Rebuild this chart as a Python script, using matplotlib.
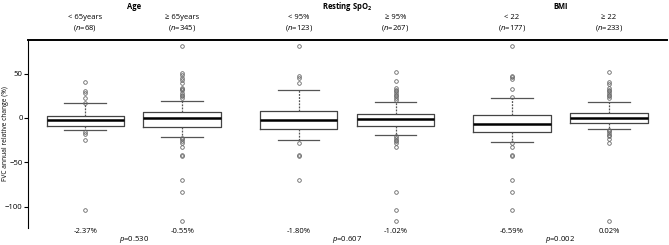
import matplotlib
matplotlib.use("Agg")
import matplotlib.pyplot as plt

plt.rcParams["font.family"] = ["Open Sans", "DejaVu Sans"]
plt.rcParams["mathtext.fontset"] = "custom"
plt.rcParams["mathtext.rm"] = "Open Sans"
plt.rcParams["mathtext.it"] = "Open Sans:italic"
plt.rcParams["mathtext.bf"] = "Open Sans:bold"

# box positions and summary values
positions = [1, 2, 3.2, 4.2, 5.4, 6.4]
group_labels = ["< 65years", "\u2265 65years", "< 95%", "\u2265 95%", "< 22", "\u2265 22"]
group_n = [68, 345, 123, 267, 177, 233]
medians = [-2.3, -0.5, -1.9, -1.1, -6.8, 0.0]
q1 = [-9.1, -9.8, -12.8, -9.0, -15.8, -6.1]
q3 = [1.8, 6.3, 7.9, 4.5, 3.4, 5.6]
whislo = [-13.6, -21.1, -24.8, -19.2, -26.7, -12.4]
whishi = [16.5, 18.7, 31.9, 18.0, 22.1, 17.6]
fliers = [
    [40.6, 30.8, 27.8, 22.0, 16.5, -16.0, -18.5, -25.0, -104.0],
    [80.7, 50.7, 48.0, 45.1, 42.4, 39.5, 33.8, 32.7, 31.1, 28.2, 26.3, 24.4, 22.5,
     -22.2, -23.7, -25.6, -28.2, -32.7, -42.2, -43.3, -69.9, -83.9, -116.6],
    [80.7, 47.7, 45.1, 39.5, -27.8, -41.7, -42.8, -70.3],
    [51.4, 41.3, 33.8, 31.9, 30.0, 28.2, 26.3, 24.4, 22.5, 20.6,
     -20.7, -22.5, -24.5, -26.4, -28.2, -32.7, -83.9, -104.2, -116.6],
    [80.7, 47.7, 45.8, 44.0, 32.7, 23.7, -28.2, -32.7, -41.7, -42.8, -70.3, -83.9, -104.2],
    [51.4, 40.6, 38.7, 33.8, 31.9, 30.0, 28.2, 26.3, 24.4, 22.5,
     -13.2, -15.1, -16.9, -18.8, -20.7, -23.7, -28.2, -116.6],
]
median_labels = ["-2.37%", "-0.55%", "-1.80%", "-1.02%", "-6.59%", "0.02%"]
factors = ["Age", "Resting SpO$\\mathbf{_2}$", "BMI"]
p_values = ["0.530", "0.607", "0.002"]

stats = []
for i in range(len(positions)):
    stats.append({"med": medians[i], "q1": q1[i], "q3": q3[i],
                  "whislo": whislo[i], "whishi": whishi[i], "fliers": fliers[i]})

fig = plt.figure(figsize=(6.69, 2.45), dpi=100)
ax = fig.add_axes([0.042, 0.07, 0.955, 0.767])

ax.bxp(stats, positions=positions, widths=0.8, capwidths=0.43, showfliers=True,
       boxprops=dict(color="#444444", linewidth=0.9),
       medianprops=dict(color="black", linewidth=1.8),
       whiskerprops=dict(color="#555555", linewidth=0.9, linestyle=(0, (1.5, 1))),
       capprops=dict(color="#555555", linewidth=0.9),
       flierprops=dict(marker="o", markersize=2.6, markerfacecolor="none",
                       markeredgecolor="#666666", markeredgewidth=0.6))

ax.set_xlim(0.41, 7.0)
ax.set_ylim(-124, 88)
ax.set_yticks([50, 0, -50, -100])
ax.tick_params(axis="y", labelsize=5.6, length=3, width=0.8, pad=1)
ax.set_xticks([])
ax.spines["right"].set_visible(False)
ax.spines["bottom"].set_visible(False)
ax.spines["top"].set_linewidth(1.4)
ax.spines["left"].set_linewidth(0.8)
ax.set_ylabel("FVC annual relative change (%)", fontsize=4.8)
ax.yaxis.set_label_coords(-0.03, 0.5)

fs = 5.5
tr = ax.get_xaxis_transform()
for i, pos in enumerate(positions):
    ax.text(pos, 1.117, group_labels[i], transform=tr, ha="center", va="center", fontsize=fs)
    ax.text(pos, 1.064, "($n$=%d)" % group_n[i], transform=tr, ha="center", va="center", fontsize=fs)
    ax.text(pos, -0.02, median_labels[i], transform=tr, ha="center", va="center", fontsize=fs)

for k in range(3):
    mid = (positions[2 * k] + positions[2 * k + 1]) / 2
    ax.text(mid, 1.18, factors[k], transform=tr, ha="center", va="center",
            fontsize=fs, fontweight="bold")
    ax.text(mid, -0.064, "$p$=" + p_values[k], transform=tr, ha="center", va="center", fontsize=fs)

fig.savefig("out.png", dpi=100)
